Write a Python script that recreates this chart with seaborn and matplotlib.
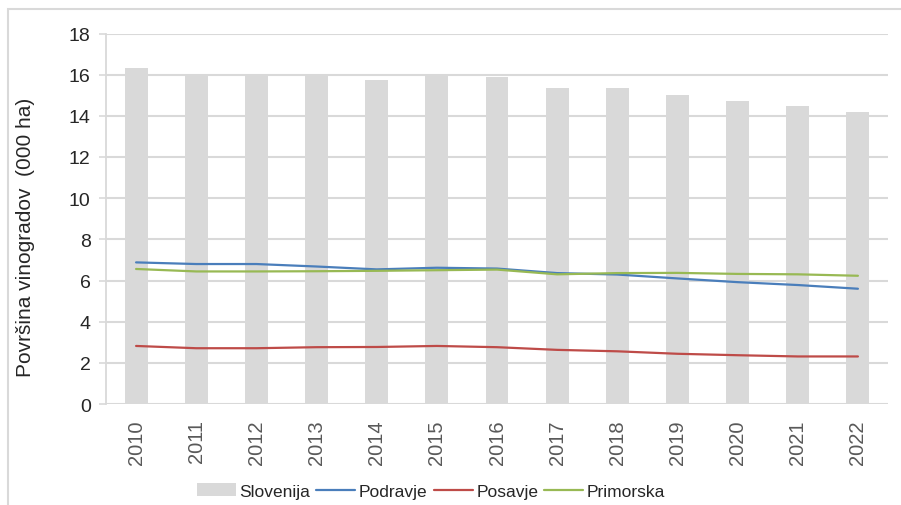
import matplotlib
matplotlib.use("Agg")
import matplotlib.pyplot as plt
import seaborn as sns
import pandas as pd
from matplotlib.patches import Patch, Rectangle
from matplotlib.lines import Line2D

years = ["2010", "2011", "2012", "2013", "2014", "2015", "2016",
         "2017", "2018", "2019", "2020", "2021", "2022"]
slovenija = [16.3, 16.0, 16.0, 16.0, 15.75, 16.0, 15.87, 15.35, 15.35, 15.0, 14.72, 14.46, 14.2]
podravje = [6.88, 6.8, 6.8, 6.68, 6.54, 6.62, 6.58, 6.36, 6.29, 6.1, 5.92, 5.78, 5.6]
posavje = [2.82, 2.71, 2.71, 2.76, 2.77, 2.82, 2.76, 2.63, 2.56, 2.44, 2.37, 2.31, 2.31]
primorska = [6.56, 6.44, 6.44, 6.45, 6.47, 6.5, 6.53, 6.3, 6.36, 6.37, 6.32, 6.3, 6.23]

series_names = ["Podravje", "Posavje", "Primorska"]
series_colors = ["#4A7EBB", "#BE4B48", "#98B954"]
bar_color = "#D9D9D9"
grid_color = "#D9D9D9"

sns.set_theme(style="white")
plt.rcParams['font.family'] = ['Liberation Sans', 'DejaVu Sans']

fig = plt.figure(figsize=(9.01, 5.06), dpi=100)
ax = fig.add_axes([106/901, 1-405/506, (888-106)/901, (405-34.5)/506])

bar_df = pd.DataFrame({"year": years, "value": slovenija})
sns.barplot(data=bar_df, x="year", y="value", color=bar_color, width=0.38,
            saturation=1, ax=ax, zorder=2, linewidth=0, edgecolor="none")

line_df = pd.DataFrame({
    "year": years * 3,
    "value": podravje + posavje + primorska,
    "region": sum([[n] * len(years) for n in series_names], []),
})
line_df["pos"] = line_df["year"].map({y: i for i, y in enumerate(years)})
sns.lineplot(data=line_df, x="pos", y="value", hue="region", hue_order=series_names,
             palette=series_colors, linewidth=1.6, ax=ax, legend=False, zorder=3)

ax.set_ylim(0, 18)
ax.set_yticks(range(0, 19, 2))
ax.set_xlim(-0.5, len(years) - 0.5)
ax.set_xticks(range(len(years)))
ax.set_xticklabels(years, rotation=90, color="#595959", fontsize=14.5)
ax.tick_params(axis="y", labelsize=14, labelcolor="#262626", length=5,
               width=1.2, color=grid_color, pad=6, left=True)
ax.tick_params(axis="x", length=0, pad=11)
ax.yaxis.grid(True, color=grid_color, linewidth=1.5, zorder=0)
ax.set_axisbelow(True)
for s in ["top", "right", "bottom"]:
    ax.spines[s].set_visible(False)
ax.spines["left"].set_color(grid_color)
ax.spines["left"].set_linewidth(1.3)
ax.set_xlabel("")
ax.set_ylabel("Površina vinogradov  (000 ha)", fontsize=15, color="#262626")
ax.yaxis.set_label_coords((35 - 106) / 782, (405 - 237.5) / 370.5)

handles = [Patch(facecolor=bar_color, edgecolor="none", label="Slovenija")]
for n, c in zip(series_names, series_colors):
    handles.append(Line2D([0], [0], color=c, linewidth=1.6, label=n))
fig.legend(handles=handles, loc="center", bbox_to_anchor=(431/901, 1-492/506),
           ncol=4, frameon=False, fontsize=12.5, handlelength=2.25,
           handleheight=0.75, handletextpad=0.2, columnspacing=0.35,
           labelcolor="#262626")

fig.patches.append(Rectangle((8/901, -0.1), 1.2, 1.1 - 10/506, transform=fig.transFigure,
                             fill=False, edgecolor=grid_color, linewidth=1.5))

fig.savefig("out.png", dpi=100)
